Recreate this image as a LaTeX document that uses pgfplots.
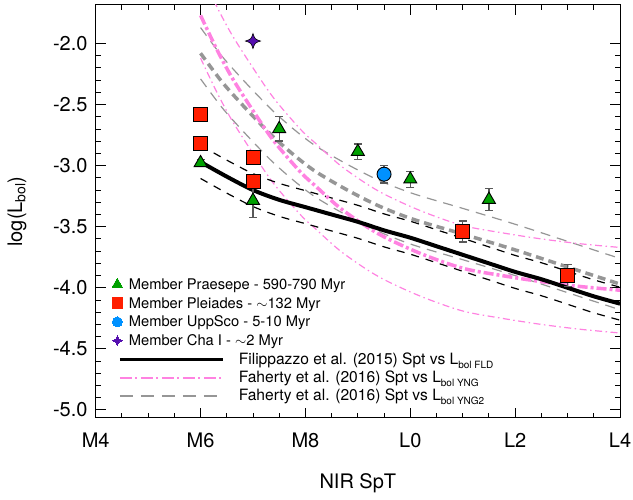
\documentclass[border=0pt]{standalone}
\usepackage{fontspec}
\setmainfont{TeX Gyre Heros}
\usepackage{pgfplots}
\pgfplotsset{compat=1.18}
\definecolor{pgreen}{RGB}{0,160,0}
\definecolor{pred}{RGB}{255,30,0}
\definecolor{pblue}{RGB}{0,145,255}
\definecolor{ppurple}{RGB}{85,15,175}
\definecolor{ppink}{RGB}{255,130,225}
\definecolor{pgray}{RGB}{150,150,150}
\newcommand{\sub}[1]{\raisebox{-4pt}{\fontsize{10}{11}\selectfont #1}}
\pgfdeclareplotmark{star4}{%
  \pgfpathmoveto{\pgfpoint{0pt}{\pgfplotmarksize}}%
  \pgfpathcurveto{\pgfpoint{0.25\pgfplotmarksize}{0.25\pgfplotmarksize}}{\pgfpoint{0.25\pgfplotmarksize}{0.25\pgfplotmarksize}}{\pgfpoint{\pgfplotmarksize}{0pt}}%
  \pgfpathcurveto{\pgfpoint{0.25\pgfplotmarksize}{-0.25\pgfplotmarksize}}{\pgfpoint{0.25\pgfplotmarksize}{-0.25\pgfplotmarksize}}{\pgfpoint{0pt}{-\pgfplotmarksize}}%
  \pgfpathcurveto{\pgfpoint{-0.25\pgfplotmarksize}{-0.25\pgfplotmarksize}}{\pgfpoint{-0.25\pgfplotmarksize}{-0.25\pgfplotmarksize}}{\pgfpoint{-\pgfplotmarksize}{0pt}}%
  \pgfpathcurveto{\pgfpoint{-0.25\pgfplotmarksize}{0.25\pgfplotmarksize}}{\pgfpoint{-0.25\pgfplotmarksize}{0.25\pgfplotmarksize}}{\pgfpoint{0pt}{\pgfplotmarksize}}%
  \pgfpathclose
  \pgfusepathqfillstroke
}
\begin{document}
\begin{tikzpicture}[x=1pt,y=1pt]
\useasboundingbox (-95.7,-82) rectangle (537.3,418);
\begin{axis}[
  at={(0,0)}, anchor=south west,
  width=524.3pt, height=413pt, scale only axis,
  xmin=4, xmax=14, ymin=-5.066, ymax=-1.685,
  xtick={4,6,8,10,12,14}, xticklabels={M4,M6,M8,L0,L2,L4},
  minor x tick num=3,
  ytick={-5,-4.5,-4,-3.5,-3,-2.5,-2},
  yticklabels={-5.0,-4.5,-4.0,-3.5,-3.0,-2.5,-2.0},
  minor y tick num=4,
  tick align=inside, xtick pos=both, ytick pos=both,
  major tick length=10pt, minor tick length=5pt,
  every tick/.append style={black, line width=0.9pt},
  axis line style={black, line width=1pt},
  tick label style={font=\fontsize{20}{24}\selectfont},
  xticklabel style={anchor=center, yshift=-22pt},
  yticklabel style={anchor=east, inner sep=0pt, xshift=-8pt},
  xlabel={NIR SpT}, ylabel={log(L\textsubscript{bol})},
  xlabel style={at={(axis description cs:0.5,-0.157)}, anchor=center, font=\fontsize{20}{24}\selectfont},
  ylabel style={at={(axis description cs:-0.150,0.5)}, anchor=center, font=\fontsize{20}{24}\selectfont},
  legend cell align=left,
  legend style={draw=none, fill=none, inner sep=0pt, outer sep=0pt,
    at={(axis description cs:0.0311,0.3419)}, anchor=north west,
    row sep=3.8pt, column sep=5.3pt, font=\fontsize{14.7}{16}\selectfont,
    nodes={inner sep=1pt, text height=11.5pt, text depth=1.5pt}},
]
% Faherty YNG2 band (thin gray dashed)
\addplot[forget plot, pgray, line width=1.2pt, dash pattern=on 10pt off 7pt, smooth] coordinates {
(6.0,-1.87)(6.4,-2.10)(6.75,-2.27)(7.1,-2.43)(7.4,-2.56)(7.8,-2.71)(8.2,-2.84)(8.8,-2.99)(9.4,-3.12)(10.06,-3.23)(11.0,-3.35)(12.0,-3.48)(13.0,-3.62)(14.0,-3.76)};
\addplot[forget plot, pgray, line width=1.2pt, dash pattern=on 10pt off 7pt, smooth] coordinates {
(6.0,-2.29)(6.4,-2.52)(6.75,-2.69)(7.1,-2.85)(7.4,-2.98)(7.8,-3.13)(8.2,-3.26)(8.8,-3.41)(9.4,-3.54)(10.06,-3.65)(11.0,-3.77)(12.0,-3.90)(13.0,-4.04)(14.0,-4.18)};
% Faherty YNG band (thin pink dash-dot)
\addplot[forget plot, ppink, line width=1.2pt, dash pattern=on 7pt off 3.5pt on 1.5pt off 3.5pt, smooth] coordinates {
(6.0,-1.42)(6.3,-1.69)(6.6,-1.93)(7.0,-2.20)(7.4,-2.45)(7.9,-2.70)(8.2,-2.82)(8.7,-3.01)(9.4,-3.21)(10.2,-3.37)(11.0,-3.49)(11.75,-3.55)(12.5,-3.60)(13.25,-3.64)(14,-3.67)};
\addplot[forget plot, ppink, line width=1.2pt, dash pattern=on 7pt off 3.5pt on 1.5pt off 3.5pt, smooth] coordinates {
(6.0,-2.12)(6.3,-2.39)(6.6,-2.63)(7.0,-2.90)(7.4,-3.15)(7.9,-3.40)(8.2,-3.52)(8.7,-3.71)(9.4,-3.91)(10.2,-4.07)(11.0,-4.19)(11.75,-4.25)(12.5,-4.30)(13.25,-4.34)(14,-4.37)};
% Filippazzo band (thin black dashed)
\addplot[forget plot, black, line width=1.2pt, dash pattern=on 8pt off 7pt, smooth] coordinates {
(6,-2.835)(6.5,-2.955)(7,-3.065)(7.5,-3.145)(8,-3.205)(8.5,-3.265)(9,-3.325)(9.5,-3.395)(10,-3.455)(10.5,-3.525)(11,-3.595)(11.5,-3.665)(12,-3.735)(12.5,-3.795)(13,-3.865)(13.5,-3.935)(14,-3.995)};
\addplot[forget plot, black, line width=1.2pt, dash pattern=on 8pt off 7pt, smooth] coordinates {
(6,-3.105)(6.5,-3.225)(7,-3.335)(7.5,-3.415)(8,-3.475)(8.5,-3.535)(9,-3.595)(9.5,-3.665)(10,-3.725)(10.5,-3.795)(11,-3.865)(11.5,-3.935)(12,-4.005)(12.5,-4.065)(13,-4.135)(13.5,-4.205)(14,-4.265)};
% Faherty YNG2 (thick gray dashed)
\addplot[forget plot, pgray, line width=3.5pt, dash pattern=on 8pt off 5pt, smooth] coordinates {
(6.0,-2.08)(6.4,-2.31)(6.75,-2.48)(7.1,-2.64)(7.4,-2.77)(7.8,-2.92)(8.2,-3.05)(8.8,-3.20)(9.4,-3.33)(10.06,-3.44)(11.0,-3.56)(12.0,-3.69)(13.0,-3.83)(14.0,-3.97)};
% Faherty YNG (thick pink dash-dot)
\addplot[forget plot, ppink, line width=3.5pt, dash pattern=on 10pt off 3pt on 3pt off 3pt, smooth] coordinates {
(6.0,-1.77)(6.3,-2.04)(6.6,-2.28)(7.0,-2.55)(7.4,-2.80)(7.9,-3.05)(8.2,-3.17)(8.7,-3.36)(9.4,-3.56)(10.2,-3.72)(11.0,-3.84)(11.75,-3.90)(12.5,-3.95)(13.25,-3.99)(14,-4.02)};
% Filippazzo FLD (solid black)
\addplot[forget plot, black, line width=4pt, smooth] coordinates {
(6,-2.97)(6.5,-3.09)(7,-3.20)(7.5,-3.28)(8,-3.34)(8.5,-3.40)(9,-3.46)(9.5,-3.53)(10,-3.59)(10.5,-3.66)(11,-3.73)(11.5,-3.80)(12,-3.87)(12.5,-3.93)(13,-4.00)(13.5,-4.07)(14,-4.13)};
% Praesepe
\addplot[only marks,
  legend image code/.code={\draw[mark=triangle*, mark size=6pt, mark options={fill=pgreen, draw=pgreen, line width=0pt}] plot coordinates {(0pt,0pt)};},
  mark=triangle*, mark size=7.5pt, mark options={fill=pgreen, draw=black, line width=0.9pt},
  error bars/.cd, y dir=both, y explicit,
  error bar style={line width=1.2pt, black!65},
  error mark options={rotate=90, mark size=4pt, line width=1.2pt, black!65}]
coordinates {
(6.0,-2.978) +- (0,0.03)
(7.0,-3.286) +- (0,0.14)
(7.5,-2.699) +- (0,0.10)
(9.0,-2.885) +- (0,0.062)
(10.0,-3.111) +- (0,0.065)
(11.5,-3.278) +- (0,0.088)
};
\addlegendentry{Member Praesepe - 590-790 Myr}
% Pleiades
\addplot[only marks,
  legend image code/.code={\draw[mark=square*, mark size=5.3pt, mark options={fill=pred, draw=pred, line width=0pt}] plot coordinates {(0pt,0pt)};},
  mark=square*, mark size=7pt, mark options={fill=pred, draw=black, line width=0.9pt},
  error bars/.cd, y dir=both, y explicit,
  error bar style={line width=1.2pt, black!65},
  error mark options={rotate=90, mark size=4pt, line width=1.2pt, black!65}]
coordinates {
(6.0,-2.583) +- (0,0.02)
(6.0,-2.815) +- (0,0.02)
(7.0,-2.937) +- (0,0.02)
(7.0,-3.127) +- (0,0.03)
(11.0,-3.540) +- (0,0.086)
(13.0,-3.900) +- (0,0.088)
};
\addlegendentry{Member Pleiades - $\sim$132 Myr}
% UppSco
\addplot[only marks,
  legend image code/.code={\draw[mark=*, mark size=5pt, mark options={fill=pblue, draw=pblue, line width=0pt}] plot coordinates {(0pt,0pt)};},
  mark=*, mark size=7pt, mark options={fill=pblue, draw=black, line width=0.9pt},
  error bars/.cd, y dir=both, y explicit,
  error bar style={line width=1.2pt, black!65},
  error mark options={rotate=90, mark size=4pt, line width=1.2pt, black!65}]
coordinates {
(9.5,-3.070) +- (0,0.073)
};
\addlegendentry{Member UppSco - 5-10 Myr}
% Cha I
\addplot[only marks,
  legend image code/.code={\draw[mark=star4, mark size=5pt, mark options={fill=ppurple, draw=ppurple, line width=0pt}] plot coordinates {(0pt,0pt)};},
  mark=star4, mark size=7.5pt, mark options={fill=ppurple, draw=black, line width=0.6pt}]
coordinates {
(7.0,-1.98)
};
\addlegendentry{Member Cha I - $\sim$2 Myr}
\end{axis}
\begin{axis}[
  at={(0,0)}, anchor=south west,
  width=524.3pt, height=413pt, scale only axis, hide axis,
  xmin=4, xmax=14, ymin=-5.066, ymax=-1.685,
  legend image code/.code={\draw[#1] (0pt,0pt) -- (103pt,0pt);},
  legend cell align=left,
  legend style={draw=none, fill=none, inner sep=0pt, outer sep=0pt,
    at={(axis description cs:0.0431,0.1603)}, anchor=north west,
    row sep=3.35pt, column sep=13.3pt, font=\fontsize{15.6}{17}\selectfont,
    nodes={inner sep=1pt, text height=11.5pt, text depth=1.5pt}},
]
\addlegendimage{black, line width=3.2pt}
\addlegendentry{Filippazzo et al. (2015) Spt vs L\sub{bol FLD}}
\addlegendimage{ppink, line width=2pt, dash pattern=on 12pt off 3.5pt on 2pt off 3.5pt}
\addlegendentry{Faherty et al. (2016) Spt vs L\sub{bol YNG}}
\addlegendimage{pgray, line width=2pt, dash pattern=on 13pt off 8pt}
\addlegendentry{Faherty et al. (2016) Spt vs L\sub{bol YNG2}}
\end{axis}
\end{tikzpicture}
\end{document}
